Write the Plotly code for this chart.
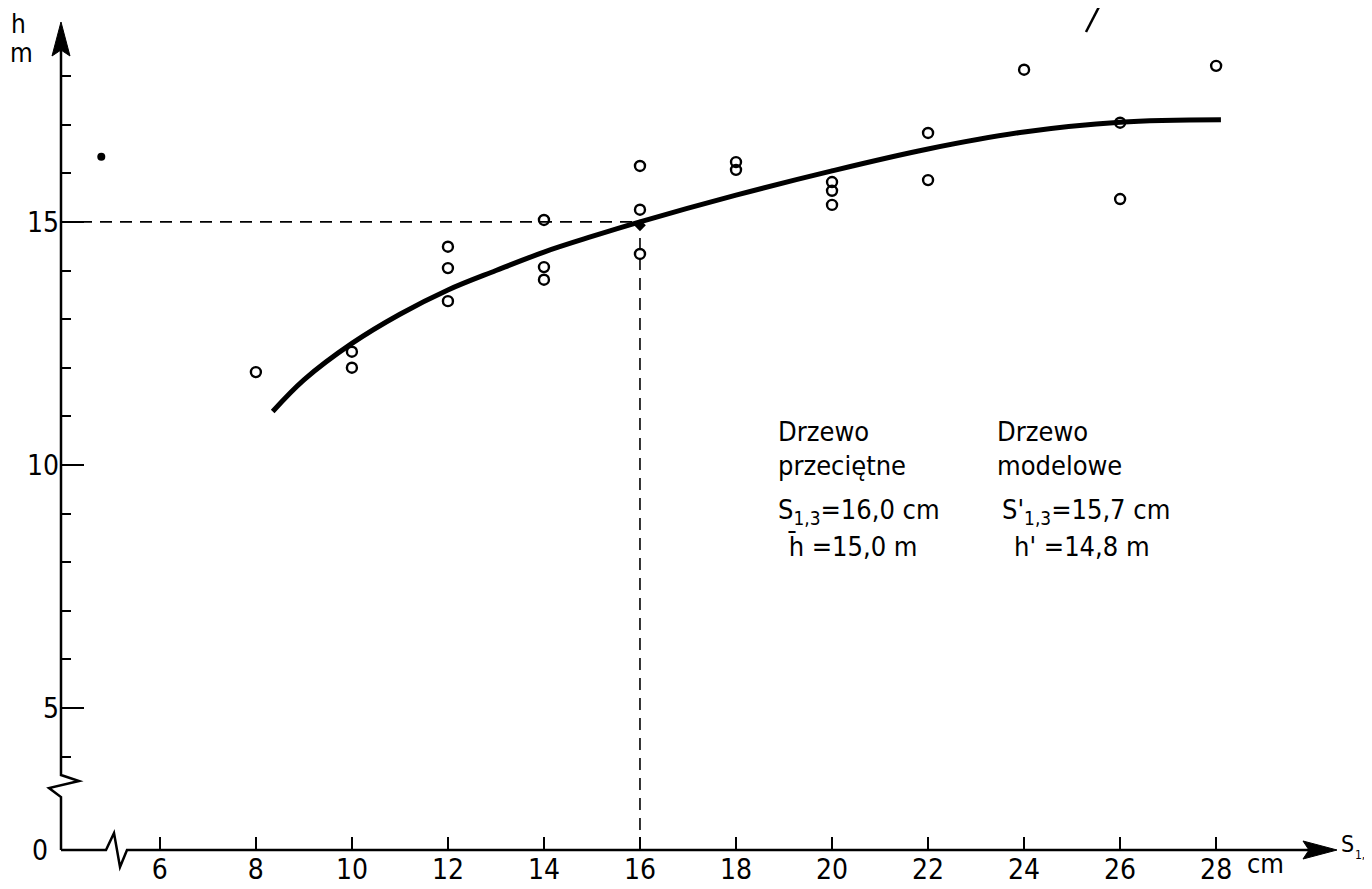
import plotly.graph_objects as go

# ---- data ----
obs_x = [8, 10, 10, 12, 12, 12, 14, 14, 14, 16, 16, 16, 18, 18, 20, 20, 20, 22, 22, 24, 26, 26, 28]
obs_h = [11.91, 12.33, 12.0, 14.49, 14.05, 13.37, 15.04, 14.07, 13.81, 16.15, 15.25, 14.34,
         16.23, 16.07, 15.82, 15.64, 15.35, 16.83, 15.86, 18.13, 17.04, 15.47, 18.21]

curve_x = [8.35, 9, 10, 11, 12, 13, 14, 15, 16, 18, 20, 22, 24, 26, 28.1]
curve_h = [11.1, 11.75, 12.5, 13.1, 13.6, 14.0, 14.38, 14.7, 15.0, 15.55, 16.05, 16.5, 16.85, 17.05, 17.1]

mean_tree_x = [16.0]
mean_tree_h = [14.93]

stray_x = [4.78]
stray_h = [16.34]

x_ticks = [6, 8, 10, 12, 14, 16, 18, 20, 22, 24, 26, 28]
y_major = [5, 10, 15]
y_minor = [4, 6, 7, 8, 9, 11, 12, 13, 14, 16, 17, 18]

X_RANGE = [3.92, 30.58]
Y_RANGE = [2.08, 19.05]

# page body has an 8px default margin: figure pixel = page pixel - OFF
OFF = 8
W, H = 1372 - OFF, 889 - OFF
ML, MR, MT, MB = 60 - OFF, 32, 25 - OFF, 39
PW, PH = W - ML - MR, H - MT - MB

FONT = "DejaVu Sans Condensed, DejaVu Sans, sans-serif"


def px(x, y):
    """page pixel -> paper coordinates"""
    fx, fy = x - OFF, y - OFF
    return (fx - ML) / PW, (H - MB - fy) / PH


def path(points, close=False):
    s = ""
    for i, (x, y) in enumerate(points):
        a, b = px(x, y)
        s += ("M" if i == 0 else "L") + f"{a:.5f},{b:.5f} "
    if close:
        s += "Z"
    return s


fig = go.Figure()

# dashed guide lines (mean tree)
fig.add_trace(go.Scatter(x=[X_RANGE[0], mean_tree_x[0]], y=[15, 15], mode="lines",
                         line=dict(color="black", width=1.6, dash="12px,8px"),
                         hoverinfo="skip", showlegend=False))
fig.add_trace(go.Scatter(x=[mean_tree_x[0], mean_tree_x[0]], y=[Y_RANGE[0], 15], mode="lines",
                         line=dict(color="black", width=1.6, dash="12px,8px"),
                         hoverinfo="skip", showlegend=False))

# fitted height curve
fig.add_trace(go.Scatter(x=curve_x, y=curve_h, mode="lines",
                         line=dict(color="black", width=5, shape="spline", smoothing=1.0),
                         showlegend=False))

# observations
fig.add_trace(go.Scatter(x=obs_x, y=obs_h, mode="markers",
                         marker=dict(symbol="circle-open", size=10, color="black",
                                     line=dict(width=2.4, color="black")),
                         showlegend=False))

fig.add_trace(go.Scatter(x=mean_tree_x, y=mean_tree_h, mode="markers",
                         marker=dict(symbol="diamond", size=9, color="black"),
                         showlegend=False))
fig.add_trace(go.Scatter(x=stray_x, y=stray_h, mode="markers",
                         marker=dict(symbol="circle", size=8, color="black"),
                         showlegend=False))

shapes = []
# y axis with break
shapes.append(dict(type="path", xref="paper", yref="paper",
                   path=path([(61, 50), (61, 775), (79, 781), (49, 788), (61, 797), (61, 850)]),
                   line=dict(color="black", width=2.5)))
# x axis with break
shapes.append(dict(type="path", xref="paper", yref="paper",
                   path=path([(61, 850), (106, 850), (114, 833), (120, 867), (127, 850), (1310, 850)]),
                   line=dict(color="black", width=2.5)))
# arrow heads
shapes.append(dict(type="path", xref="paper", yref="paper",
                   path=path([(61, 22), (52, 56), (61, 50), (70, 56)], close=True),
                   fillcolor="black", line=dict(color="black", width=1)))
shapes.append(dict(type="path", xref="paper", yref="paper",
                   path=path([(1337, 850), (1303, 841), (1309, 850), (1303, 859)], close=True),
                   fillcolor="black", line=dict(color="black", width=1)))
# scan mark top right
shapes.append(dict(type="path", xref="paper", yref="paper",
                   path=path([(1086, 32), (1101, 3)]),
                   line=dict(color="black", width=2.5)))

ann = []


def text(x, y, s, size=24, xanchor="left"):
    a, b = px(x, y)
    ann.append(dict(x=a, y=b, xref="paper", yref="paper", text=s, showarrow=False,
                    xanchor=xanchor, yanchor="middle", font=dict(family=FONT, size=size, color="black")))


text(9, 24, "h", 26, "left")
text(8, 53, "m", 26, "left")
text(40, 850, "0", 28, "center")
text(1265, 863, "cm", 27, "center")
text(1339, 844, "S", 23, "left")
text(1353, 855, "1,3", 12, "left")

text(776, 432, "Drzewo", 27)
text(776, 465, "przeciętne", 27)
text(776, 511, "S<sub>1,3</sub>=16,0 cm", 27)
text(786, 546, "h\u0304 =15,0 m", 27)

text(995, 432, "Drzewo", 27)
text(995, 465, "modelowe", 27)
text(1000, 511, "S'<sub>1,3</sub>=15,7 cm", 27)
text(1012, 546, "h' =14,8 m", 27)

fig.update_layout(
    width=W, height=H,
    margin=dict(l=ML, r=MR, t=MT, b=MB, autoexpand=False),
    paper_bgcolor="white", plot_bgcolor="white",
    shapes=shapes, annotations=ann,
    xaxis=dict(range=X_RANGE, showgrid=False, zeroline=False, showline=False, automargin=False,
               tickvals=x_ticks, ticktext=[str(v) for v in x_ticks],
               ticks="inside", ticklen=13, tickwidth=2, tickcolor="black",
               tickfont=dict(family=FONT, size=28, color="black")),
    yaxis=dict(range=Y_RANGE, showgrid=False, zeroline=False, showline=False, automargin=False,
               tickvals=y_major, ticktext=[str(v) for v in y_major],
               ticks="inside", ticklen=24, tickwidth=2, tickcolor="black",
               tickfont=dict(family=FONT, size=28, color="black"),
               minor=dict(tickvals=y_minor, ticks="inside", ticklen=11, tickwidth=2,
                          tickcolor="black", showgrid=False)),
)

fig.write_html("out.html")
